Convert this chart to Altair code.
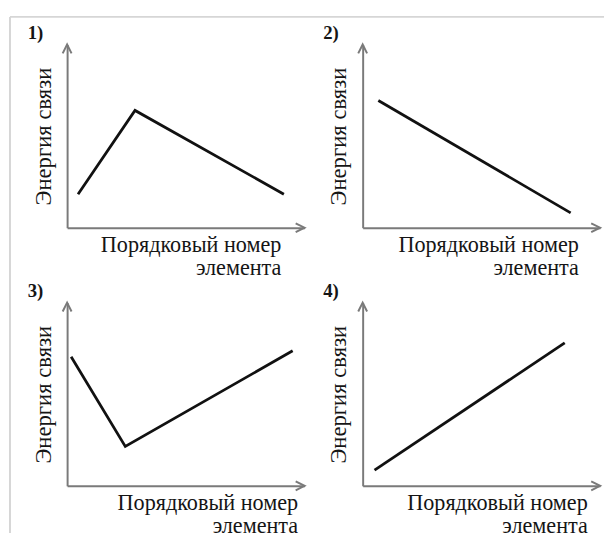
import altair as alt
import pandas as pd

# ---- data (abstract units, axes run 0..10) ----
panel_labels = ["1)", "2)", "3)", "4)"]
xs = [
    [0.46, 2.86, 9.13],
    [0.66, 8.76],
    [0.17, 2.45, 9.50],
    [0.50, 8.51],
]
ys = [
    [1.83, 6.40, 1.83],
    [6.94, 0.81],
    [7.04, 2.15, 7.37],
    [0.86, 7.80],
]
y_title = "Энергия связи"
x_title = ["Порядковый номер", "элемента"]
# right edge of the x title, relative to each panel's left axis
x_title_right = [217, 219, 234, 228]

FONT = "Liberation Serif"
AXIS_COLOR = "#7a7a7a"
TEXT_COLOR = "#151515"
W, H = 241, 186

ARROW_RIGHT = "M-2,-1L0,0L-2,1"
ARROW_UP = "M-1,2L0,0L1,2"


def panel(i):
    df = pd.DataFrame({"x": xs[i], "y": ys[i]})
    arrows = pd.DataFrame({"x": [10, 0], "y": [0, 10], "s": [ARROW_RIGHT, ARROW_UP]})
    lab = pd.DataFrame({"label": [panel_labels[i]]})

    x_enc = alt.X(
        "x:Q",
        scale=alt.Scale(domain=[0, 10], nice=False, zero=False),
        axis=alt.Axis(
            title=x_title,
            labels=False,
            ticks=False,
            grid=False,
            domainColor=AXIS_COLOR,
            domainWidth=2,
            titleX=x_title_right[i],
            titleY=24,
            titleAlign="right",
            titleBaseline="alphabetic",
            titleFont=FONT,
            titleFontSize=22.5,
            titleFontWeight="normal",
            titleColor=TEXT_COLOR,
            titleLineHeight=23.5,
        ),
    )
    y_enc = alt.Y(
        "y:Q",
        scale=alt.Scale(domain=[0, 10], nice=False, zero=False),
        axis=alt.Axis(
            title=y_title,
            labels=False,
            ticks=False,
            grid=False,
            domainColor=AXIS_COLOR,
            domainWidth=2,
            titleX=-17,
            titleY=H / 2,
            titleAngle=270,
            titleAlign="center",
            titleBaseline="alphabetic",
            titleFont=FONT,
            titleFontSize=23,
            titleFontWeight="normal",
            titleColor=TEXT_COLOR,
        ),
    )

    line = alt.Chart(df).mark_line(color="#111111", strokeWidth=2.8).encode(x=x_enc, y=y_enc)
    heads = (
        alt.Chart(arrows)
        .mark_point(filled=False, stroke=AXIS_COLOR, strokeWidth=2, size=81, opacity=1)
        .encode(x=x_enc, y=y_enc, shape=alt.Shape("s:N", scale=None))
    )
    label = (
        alt.Chart(lab)
        .mark_text(
            align="left",
            baseline="alphabetic",
            font=FONT,
            fontSize=19,
            fontWeight="bold",
            color=TEXT_COLOR,
        )
        .encode(text="label:N", x=alt.value(-40), y=alt.value(-6))
    )
    layers = [line, heads, label]
    if i == 0:
        one = pd.DataFrame({"a": [0]})
        top_border = (
            alt.Chart(one)
            .mark_rule(color="#d6d6d6", strokeWidth=2)
            .encode(x=alt.value(-58), x2=alt.value(545), y=alt.value(-28))
        )
        left_border = (
            alt.Chart(one)
            .mark_rule(color="#d6d6d6", strokeWidth=2)
            .encode(x=alt.value(-58), y=alt.value(-28), y2=alt.value(496))
        )
        layers = [top_border, left_border] + layers
    return alt.layer(*layers).properties(width=W, height=H)


chart = (
    alt.concat(
        *[panel(i) for i in range(4)],
        columns=2,
        spacing={"row": 76, "column": 59},
        bounds="flush",
    )
    .properties(padding={"left": 0, "top": 3, "right": 0, "bottom": 0}, background="white")
    .configure(font=FONT)
    .configure_axis(titleFont=FONT)
    .configure_view(stroke="transparent")
)

chart.save("out.html", embed_options={"renderer": "svg", "actions": False})
